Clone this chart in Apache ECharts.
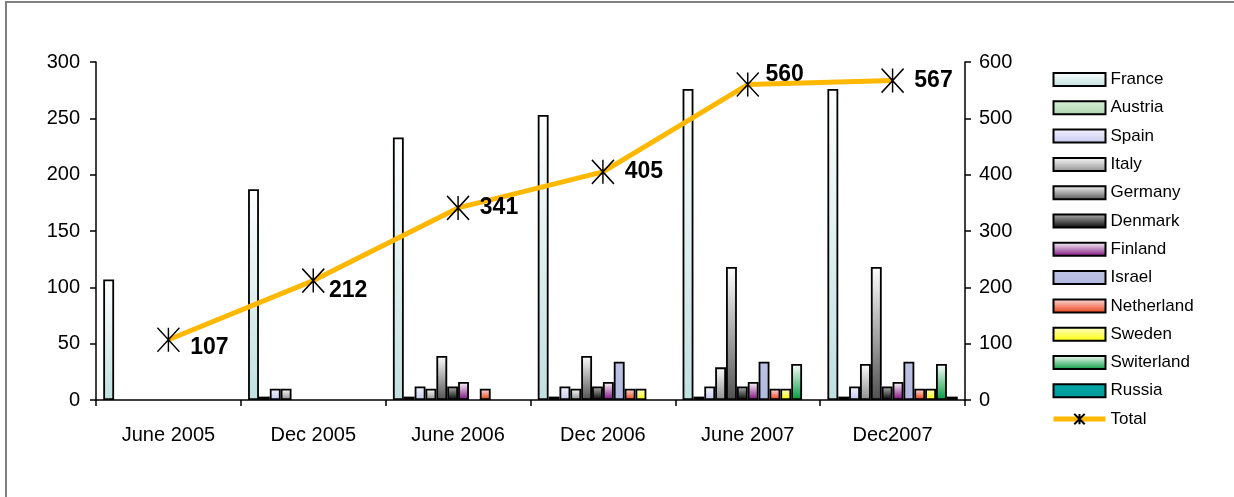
<!DOCTYPE html>
<html>
<head>
<meta charset="utf-8">
<script src="https://cdn.jsdelivr.net/npm/echarts@6/dist/echarts.min.js"></script>
<style>
  html, body { margin: 0; padding: 0; background: #fff; }
  #chart { width: 1234px; height: 497px; }
</style>
</head>
<body>
<div id="chart"></div>
<script>
// Periods on the category axis
const categories = ['June 2005', 'Dec 2005', 'June 2006', 'Dec 2006', 'June 2007', 'Dec2007'];

// Per-country counts (left axis); null = no bar in that period
const france     = [107, 187, 233, 253, 276, 276];
const austria    = [null, 3, 3, 3, 3, 3];
const spain      = [null, 10, 12, 12, 12, 12];
const italy      = [null, 10, 10, 10, 29, 32];
const germany    = [null, null, 39, 39, 118, 118];
const denmark    = [null, null, 12, 12, 12, 12];
const finland    = [null, null, 16, 16, 16, 16];
const israel     = [null, null, null, 34, 34, 34];
const netherland = [null, null, 10, 10, 10, 10];
const sweden     = [null, null, null, 10, 10, 10];
const switerland = [null, null, null, null, 32, 32];
const russia     = [null, null, null, null, null, 3];

// Overall total (right axis)
const total = [107, 212, 341, 405, 560, 567];

// Axis ticks
const leftTicks = { min: 0, max: 300, interval: 50 };
const rightTicks = { min: 0, max: 600, interval: 100 };

const FONT = 'Liberation Sans, Arial, sans-serif';

// vertical shading: light at the top, full colour at the base
function shade(top, bottom) {
  return {
    type: 'linear', x: 0, y: 0, x2: 0, y2: 1,
    colorStops: [{ offset: 0, color: top }, { offset: 1, color: bottom }]
  };
}

const countrySeries = [
  ['France', france, shade('#ffffff', '#bfe0e0')],
  ['Austria', austria, shade('#d8eed8', '#aed6ae')],
  ['Spain', spain, shade('#f4f5ff', '#c4c8ec')],
  ['Italy', italy, shade('#ffffff', '#8e8e8e')],
  ['Germany', germany, shade('#ffffff', '#505050')],
  ['Denmark', denmark, shade('#b8b8b8', '#000000')],
  ['Finland', finland, shade('#ffffff', '#7a0a7a')],
  ['Israel', israel, shade('#bcc3e4', '#b2b9df')],
  ['Netherland', netherland, shade('#ffe4e4', '#e83a10')],
  ['Sweden', sweden, shade('#ffffd0', '#ffff00')],
  ['Switerland', switerland, shade('#ffffff', '#009a3c')],
  ['Russia', russia, shade('#00a8a8', '#009898')]
];

// small per-point adjustments of the total labels
const labelNudge = [[0, 8], [-6, 10], [0, 0], [0, 0], [-4, -10], [0, 0]];

const series = countrySeries.map(([name, values, color]) => ({
  name: name,
  type: 'bar',
  yAxisIndex: 0,
  barGap: '0%',
  barCategoryGap: '10%',
  data: values,
  itemStyle: { color: color, borderColor: '#000', borderWidth: 1.8 }
}));

const STAR = 'path://M0,0L20,24M20,0L0,24M10,0L10,24';

series.push({
  name: 'Total',
  type: 'line',
  yAxisIndex: 1,
  z: 5,
  data: total.map((v, i) => ({ value: v, label: { offset: labelNudge[i] } })),
  lineStyle: { color: '#FFB800', width: 5 },
  symbol: STAR,
  symbolSize: [22, 24],
  itemStyle: { color: '#000', borderColor: '#000', borderWidth: 1.5 },
  label: {
    show: true,
    position: 'right',
    distance: 10,
    color: '#000',
    fontFamily: FONT,
    fontWeight: 'bold',
    fontSize: 23
  }
});

const axisText = { color: '#000', fontFamily: FONT, fontSize: 20 };

const chart = echarts.init(document.getElementById('chart'), null, { renderer: 'canvas' });
chart.setOption({
  animation: false,
  backgroundColor: '#fff',
  graphic: [{
    type: 'rect',
    shape: { x: 6, y: 2, width: 1400, height: 700 },
    style: { fill: 'none', stroke: '#808080', lineWidth: 2 },
    silent: true
  }],
  grid: { left: 96, right: 269, top: 62, bottom: 97, containLabel: false },
  legend: {
    orient: 'vertical',
    left: 1046,
    top: 66,
    itemWidth: 52,
    itemHeight: 13,
    itemGap: 11.3,
    textStyle: { color: '#000', fontFamily: FONT, fontSize: 17 },
    data: countrySeries.map(s => ({ name: s[0], icon: 'rect' })).concat([{
      name: 'Total',
      lineStyle: { color: '#FFB800', width: 5 },
      itemStyle: { color: '#000', borderColor: '#000', borderWidth: 2 }
    }])
  },
  xAxis: {
    type: 'category',
    data: categories,
    boundaryGap: true,
    axisLine: { lineStyle: { color: '#000', width: 1.5 } },
    axisTick: { show: true, length: 6, lineStyle: { color: '#000', width: 1.5 } },
    axisLabel: Object.assign({ margin: 25 }, axisText),
    splitLine: { show: false }
  },
  yAxis: [{
    type: 'value',
    position: 'left',
    min: leftTicks.min, max: leftTicks.max, interval: leftTicks.interval,
    axisLine: { show: true, lineStyle: { color: '#000', width: 1.5 } },
    axisTick: { show: true, length: 6, lineStyle: { color: '#000', width: 1.5 } },
    axisLabel: Object.assign({ margin: 16 }, axisText),
    splitLine: { show: false }
  }, {
    type: 'value',
    position: 'right',
    min: rightTicks.min, max: rightTicks.max, interval: rightTicks.interval,
    axisLine: { show: true, lineStyle: { color: '#000', width: 1.5 } },
    axisTick: { show: true, length: 6, lineStyle: { color: '#000', width: 1.5 } },
    axisLabel: Object.assign({ margin: 14 }, axisText),
    splitLine: { show: false }
  }],
  series: series
});
</script>
</body>
</html>
